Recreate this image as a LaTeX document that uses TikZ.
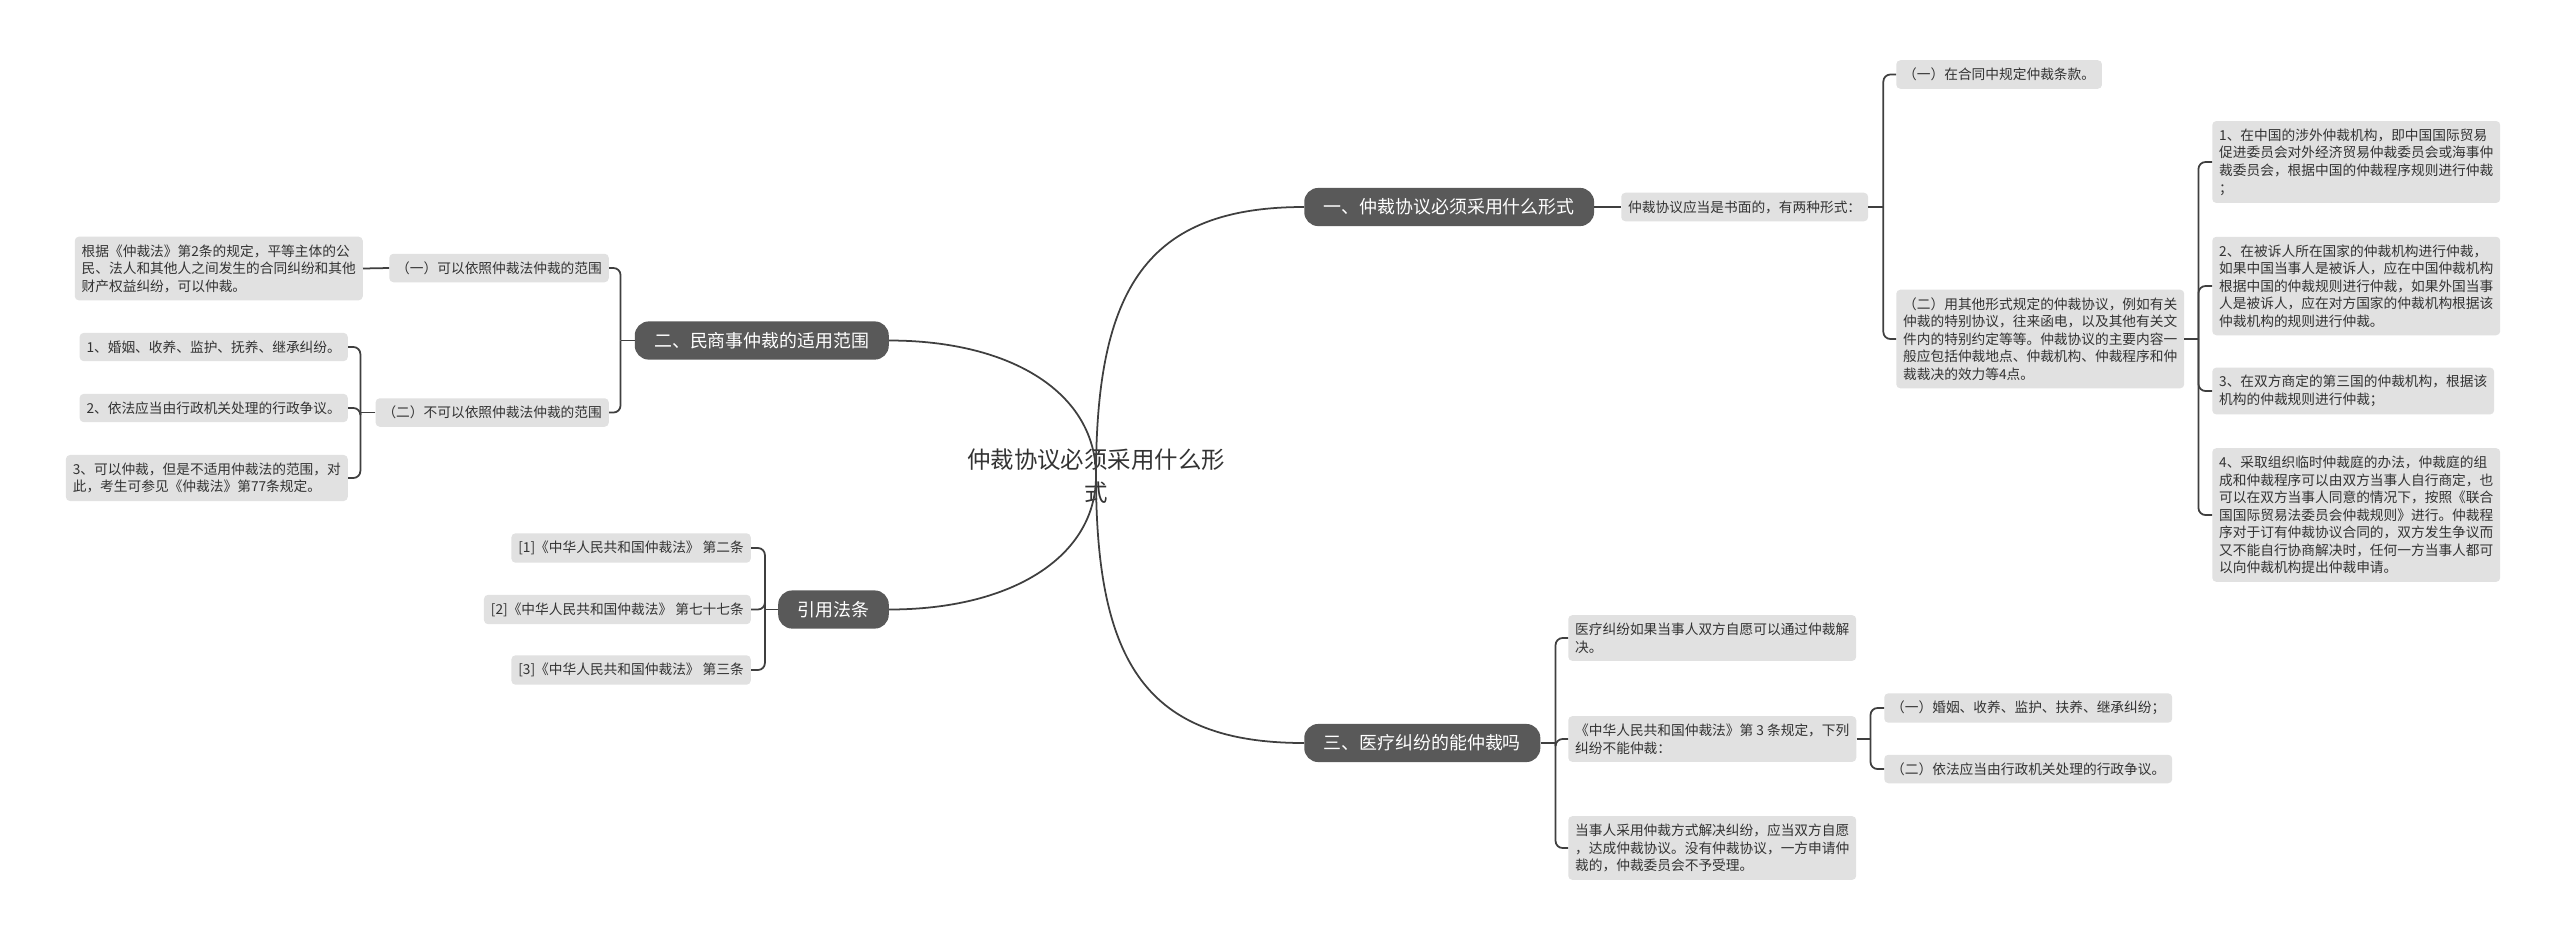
\documentclass[tikz,border=0pt]{standalone}
\usepackage{fontspec}
\setmainfont{Noto Sans CJK SC}
\definecolor{topicgray}{HTML}{595959}
\definecolor{leafgray}{HTML}{E1E1E1}
\definecolor{linegray}{HTML}{3F3F3F}
\definecolor{inkgray}{HTML}{333333}
\tikzset{
  topic/.style={fill=topicgray, text=white, rounded corners=12pt, inner xsep=16.6pt, inner ysep=9.2pt, font=\fontsize{15.3pt}{18pt}\selectfont},
  leaf/.style={fill=leafgray, text=inkgray, rounded corners=3.5pt, inner xsep=5.9pt, inner ysep=6.6pt, align=left, font=\fontsize{11.7pt}{15pt}\selectfont},
  link/.style={draw=linegray, line width=1.5pt},
  fork/.style={link, rounded corners=6pt},
}
\begin{document}
\begin{tikzpicture}[x=0.03cm, y=-0.03cm]
    \useasboundingbox (0,0) rectangle (2560,941);

    % Central topic
    \node[text=inkgray, align=center, font=\fontsize{20pt}{28pt}\selectfont] (title) at (1096,476) {仲裁协议必须采用什么形\\式};

    % Main topics
    \node[topic, anchor=west] (b1) at (1304,207) {一、仲裁协议必须采用什么形式};
    \node[topic, anchor=east] (b2) at (889,340.5) {二、民商事仲裁的适用范围};
    \node[topic, anchor=east] (b4) at (889,609.5) {引用法条};
    \node[topic, anchor=west] (b3) at (1304,743) {三、医疗纠纷的能仲裁吗};

    % Curves from the centre
    \draw[link] (title.center) .. controls +(0,-188) and +(-157,0) .. (b1.west);
    \draw[link] (title.center) .. controls +(0,188) and +(-157,0) .. (b3.west);
    \draw[link] (title.center) .. controls +(0,-82) and +(124,0) .. (b2.east);
    \draw[link] (title.center) .. controls +(0,80) and +(124,0) .. (b4.east);

    % Branch one
    \node[leaf, anchor=west] (s1) at (1621,207) {仲裁协议应当是书面的，有两种形式：};
    \node[leaf, anchor=west] (a1) at (1896,74.5) {（一）在合同中规定仲裁条款。};
    \node[leaf, anchor=west] (a2) at (1896,339) {（二）用其他形式规定的仲裁协议，例如有关\\仲裁的特别协议，往来函电，以及其他有关文\\件内的特别约定等等。仲裁协议的主要内容一\\般应包括仲裁地点、仲裁机构、仲裁程序和仲\\裁裁决的效力等4点。};
    \node[leaf, anchor=west] (i1) at (2212,162) {1、在中国的涉外仲裁机构，即中国国际贸易\\促进委员会对外经济贸易仲裁委员会或海事仲\\裁委员会，根据中国的仲裁程序规则进行仲裁\\；};
    \node[leaf, anchor=west] (i2) at (2212,286) {2、在被诉人所在国家的仲裁机构进行仲裁，\\如果中国当事人是被诉人，应在中国仲裁机构\\根据中国的仲裁规则进行仲裁，如果外国当事\\人是被诉人，应在对方国家的仲裁机构根据该\\仲裁机构的规则进行仲裁。};
    \node[leaf, anchor=west] (i3) at (2212,391) {3、在双方商定的第三国的仲裁机构，根据该\\机构的仲裁规则进行仲裁；};
    \node[leaf, anchor=west] (i4) at (2212,515) {4、采取组织临时仲裁庭的办法，仲裁庭的组\\成和仲裁程序可以由双方当事人自行商定，也\\可以在双方当事人同意的情况下，按照《联合\\国国际贸易法委员会仲裁规则》进行。仲裁程\\序对于订有仲裁协议合同的，双方发生争议而\\又不能自行协商解决时，任何一方当事人都可\\以向仲裁机构提出仲裁申请。};
    \draw[link] (b1.east) -- (s1.west);
    \draw[link] (s1.east) -- ++(15,0) coordinate (s1j);
    \foreach \n in {a1,a2}
        \draw[fork] (s1j) |- (\n.west);
    \draw[link] (a2.east) -- ++(14,0) coordinate (a2j);
    \foreach \n in {i1,i2,i3,i4}
        \draw[fork] (a2j) |- (\n.west);

    % Branch two
    \node[leaf, anchor=east] (l1) at (609,268) {（一）可以依照仲裁法仲裁的范围};
    \node[leaf, anchor=east] (l1x) at (363,268.5) {根据《仲裁法》第2条的规定，平等主体的公\\民、法人和其他人之间发生的合同纠纷和其他\\财产权益纠纷，可以仲裁。};
    \node[leaf, anchor=east] (l2) at (609,412.5) {（二）不可以依照仲裁法仲裁的范围};
    \node[leaf, anchor=east] (c1) at (348,347) {1、婚姻、收养、监护、抚养、继承纠纷。};
    \node[leaf, anchor=east] (c2) at (348,408) {2、依法应当由行政机关处理的行政争议。};
    \node[leaf, anchor=east] (c3) at (348,478) {3、可以仲裁，但是不适用仲裁法的范围，对\\此，考生可参见《仲裁法》第77条规定。};
    \draw[link] (b2.west) -- ++(-14,0) coordinate (b2j);
    \foreach \n in {l1,l2}
        \draw[fork] (b2j) |- (\n.east);
    \draw[link] (l1.west) -- (l1x.east);
    \draw[link] (l2.west) -- ++(-15,0) coordinate (l2j);
    \foreach \n in {c1,c2,c3}
        \draw[fork] (l2j) |- (\n.east);

    % Cited articles
    \node[leaf, anchor=east] (r1) at (751,548) {[1]《中华人民共和国仲裁法》 第二条};
    \node[leaf, anchor=east] (r2) at (751,609.5) {[2]《中华人民共和国仲裁法》 第七十七条};
    \node[leaf, anchor=east] (r3) at (751,670) {[3]《中华人民共和国仲裁法》 第三条};
    \draw[link] (b4.west) -- ++(-13,0) coordinate (b4j);
    \foreach \n in {r1,r2,r3}
        \draw[fork] (b4j) |- (\n.east);

    % Branch three
    \node[leaf, anchor=west] (m1) at (1568,638) {医疗纠纷如果当事人双方自愿可以通过仲裁解\\决。};
    \node[leaf, anchor=west] (m2) at (1568,739) {《中华人民共和国仲裁法》第 3 条规定，下列\\纠纷不能仲裁：};
    \node[leaf, anchor=west] (m3) at (1568,848) {当事人采用仲裁方式解决纠纷，应当双方自愿\\，达成仲裁协议。没有仲裁协议，一方申请仲\\裁的，仲裁委员会不予受理。};
    \node[leaf, anchor=west] (n1) at (1884,708) {（一）婚姻、收养、监护、扶养、继承纠纷；};
    \node[leaf, anchor=west] (n2) at (1884,769) {（二）依法应当由行政机关处理的行政争议。};
    \draw[link] (b3.east) -- ++(15,0) coordinate (b3j);
    \foreach \n in {m1,m2,m3}
        \draw[fork] (b3j) |- (\n.west);
    \draw[link] (m2.east) -- ++(14,0) coordinate (m2j);
    \foreach \n in {n1,n2}
        \draw[fork] (m2j) |- (\n.west);
\end{tikzpicture}
\end{document}
